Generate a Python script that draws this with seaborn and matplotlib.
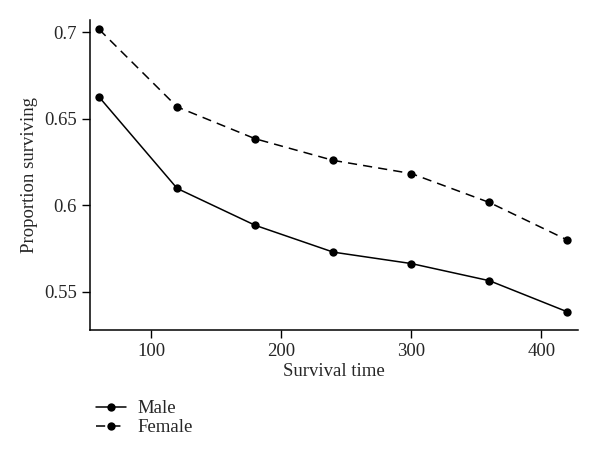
import pandas as pd
import matplotlib
matplotlib.use("Agg")
import matplotlib.pyplot as plt
import seaborn as sns

# Data
times = [60, 120, 180, 240, 300, 360, 420]
male = [0.6626, 0.6098, 0.5885, 0.5730, 0.5664, 0.5565, 0.5385]
female = [0.7017, 0.6569, 0.6385, 0.6260, 0.6184, 0.6017, 0.5800]
sexes = ["Male", "Female"]

df = pd.DataFrame({
    "Survival time": times * 2,
    "Proportion surviving": male + female,
    "Sex": [sexes[0]] * len(times) + [sexes[1]] * len(times),
})

sns.set_style("ticks")
plt.rcParams["font.family"] = ["Liberation Serif", "DejaVu Serif"]
plt.rcParams["font.size"] = 12

fig = plt.figure(figsize=(6, 4.59), dpi=100)
ax = fig.add_axes([0.15, 0.281, 0.813, 0.675])

sns.lineplot(
    data=df, x="Survival time", y="Proportion surviving",
    style="Sex", style_order=sexes,
    dashes={"Male": "", "Female": (6, 4)},
    markers={"Male": "o", "Female": "o"},
    color="black", linewidth=1.1, markersize=6, markeredgewidth=0,
    ax=ax,
)

ax.set_xlim(53, 428)
ax.set_ylim(0.528, 0.707)
ax.set_xticks([100, 200, 300, 400])
ax.set_yticks([0.55, 0.6, 0.65, 0.7])
ax.set_yticklabels(["0.55", "0.6", "0.65", "0.7"])
ax.set_xlabel("Survival time", fontsize=13.5, labelpad=2)
ax.set_ylabel("Proportion surviving", fontsize=13.5)
ax.tick_params(labelsize=13.5, length=6, width=1, color="black")
for s in ["left", "bottom"]:
    ax.spines[s].set_linewidth(1.1)
    ax.spines[s].set_color("black")
sns.despine(ax=ax)

handles, labels = ax.get_legend_handles_labels()
ax.legend(handles, labels, loc="upper left", bbox_to_anchor=(0.148, 0.145),
          bbox_transform=fig.transFigure, frameon=False, fontsize=13.5,
          handlelength=1.6, handletextpad=0.6, labelspacing=0.1,
          borderaxespad=0)

fig.savefig("out.png", dpi=100)
